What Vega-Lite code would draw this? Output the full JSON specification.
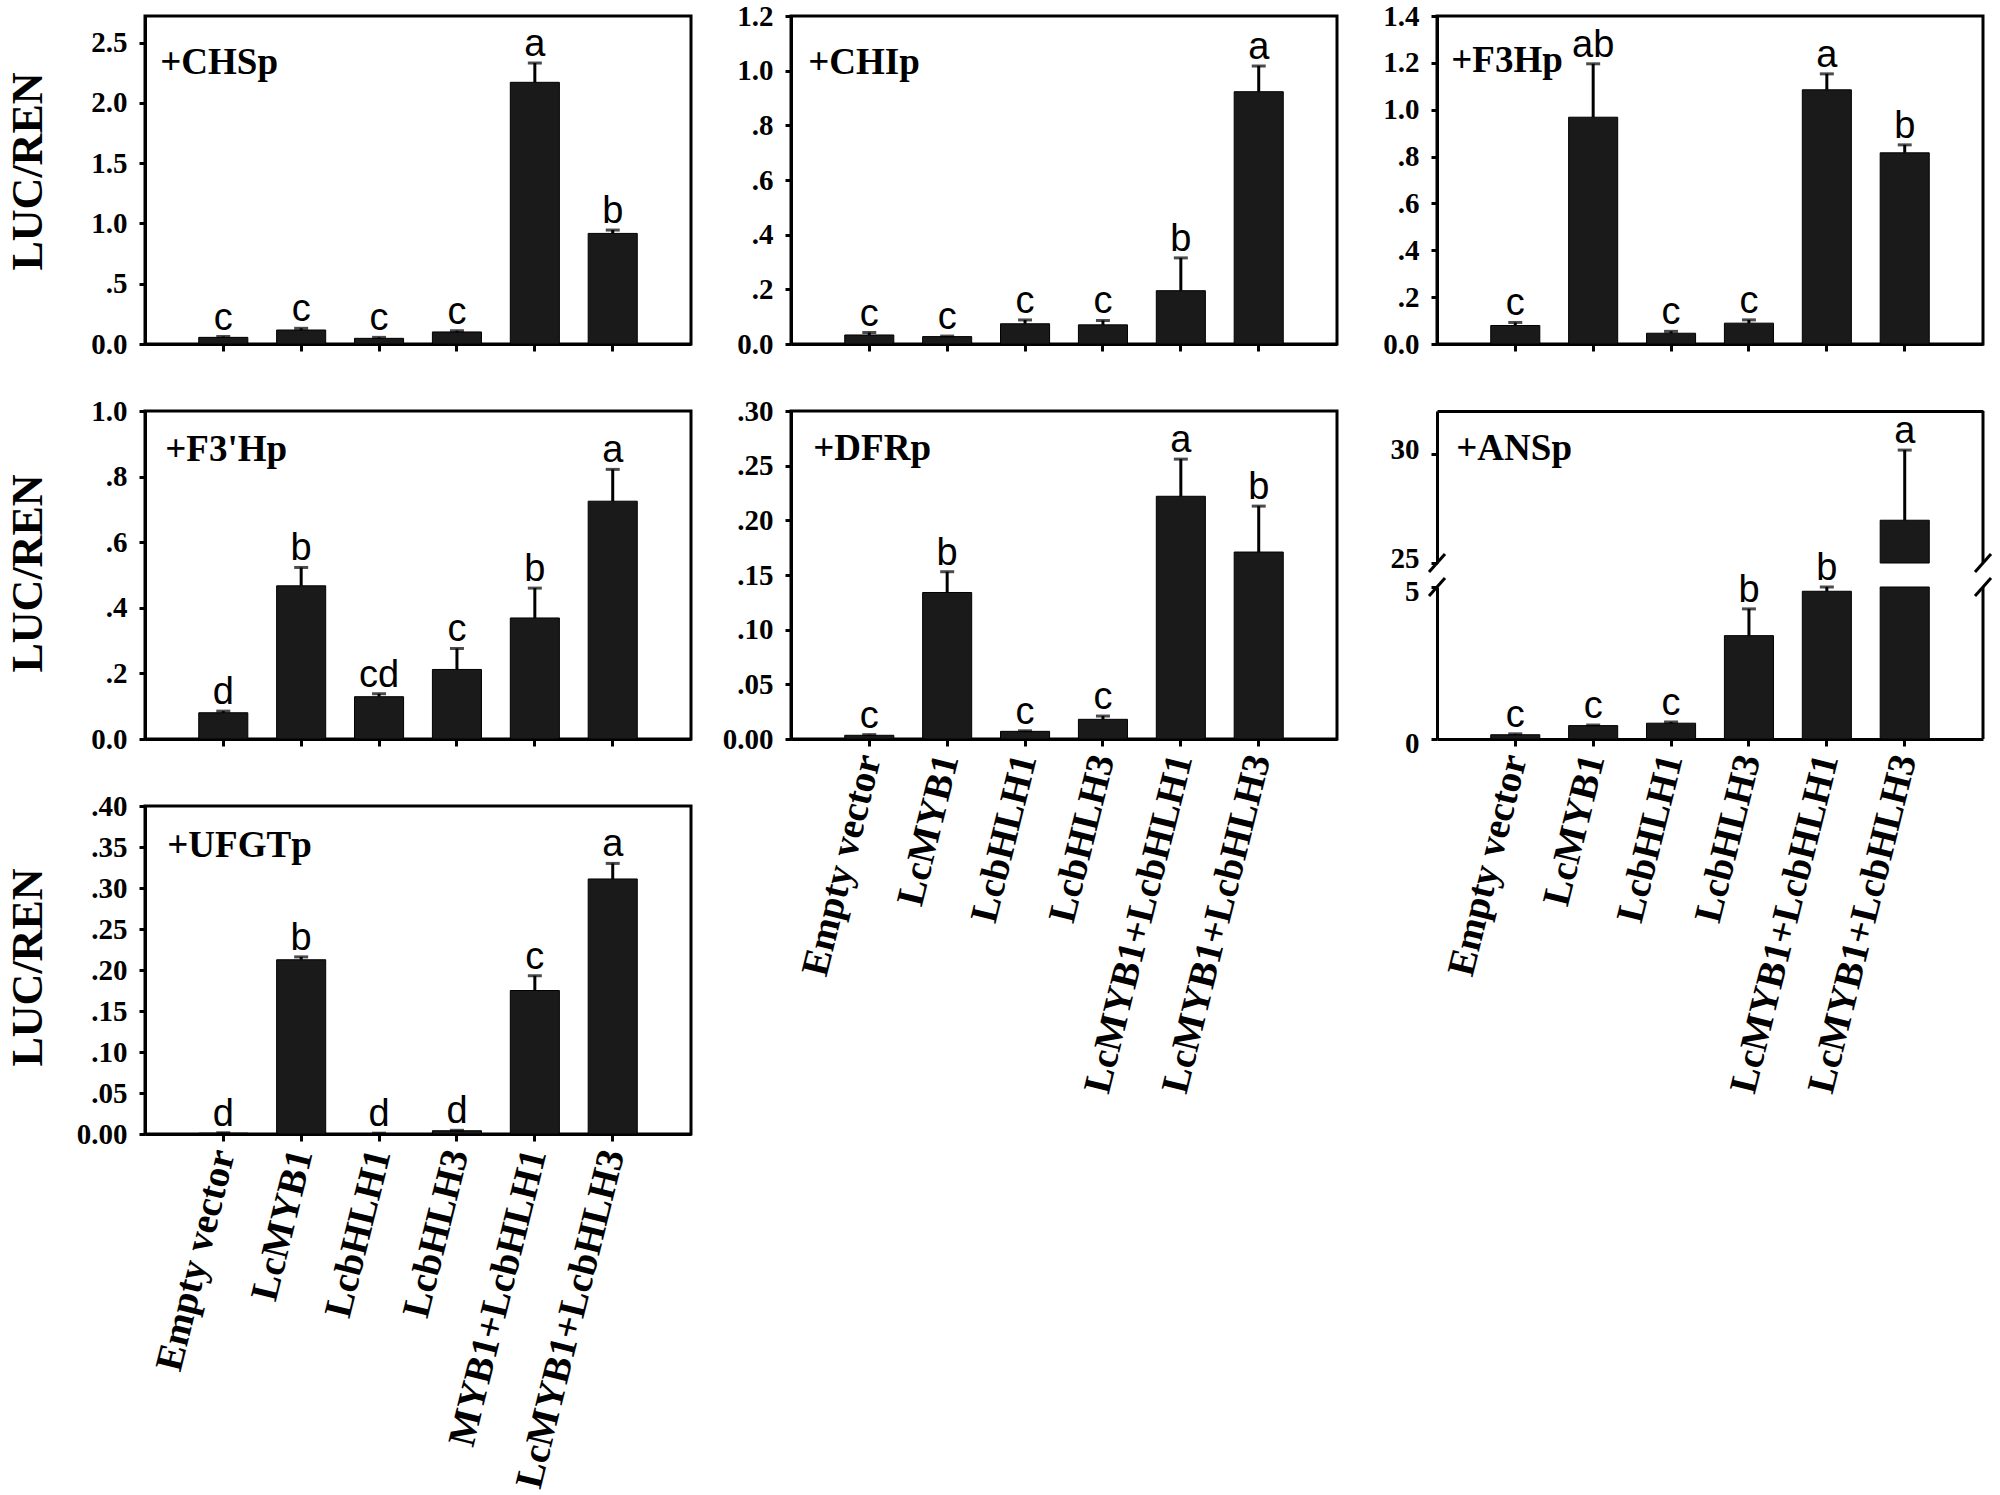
{
  "$schema": "https://vega.github.io/schema/vega-lite/v6.json",
  "background": "white",
  "padding": {"left": 4, "top": 0, "right": 5, "bottom": 2},
  "datasets": {
    "d": [
      {"p": "CHSp", "g": "Empty vector", "v": 0.055, "hi": 0.062, "l": "c"},
      {"p": "CHSp", "g": "LcMYB1", "v": 0.116, "hi": 0.13, "l": "c"},
      {"p": "CHSp", "g": "LcbHLH1", "v": 0.047, "hi": 0.055, "l": "c"},
      {"p": "CHSp", "g": "LcbHLH3", "v": 0.1, "hi": 0.11, "l": "c"},
      {"p": "CHSp", "g": "LcMYB1+LcbHLH1", "v": 2.17, "hi": 2.33, "l": "a"},
      {"p": "CHSp", "g": "LcMYB1+LcbHLH3", "v": 0.917, "hi": 0.945, "l": "b"},
      {"p": "CHIp", "g": "Empty vector", "v": 0.033, "hi": 0.042, "l": "c"},
      {"p": "CHIp", "g": "LcMYB1", "v": 0.027, "hi": 0.029, "l": "c"},
      {"p": "CHIp", "g": "LcbHLH1", "v": 0.074, "hi": 0.088, "l": "c"},
      {"p": "CHIp", "g": "LcbHLH3", "v": 0.07, "hi": 0.086, "l": "c"},
      {"p": "CHIp", "g": "LcMYB1+LcbHLH1", "v": 0.195, "hi": 0.315, "l": "b"},
      {"p": "CHIp", "g": "LcMYB1+LcbHLH3", "v": 0.923, "hi": 1.017, "l": "a"},
      {"p": "F3Hp", "g": "Empty vector", "v": 0.079, "hi": 0.092, "l": "c"},
      {"p": "F3Hp", "g": "LcMYB1", "v": 0.968, "hi": 1.196, "l": "ab"},
      {"p": "F3Hp", "g": "LcbHLH1", "v": 0.046, "hi": 0.054, "l": "c"},
      {"p": "F3Hp", "g": "LcbHLH3", "v": 0.089, "hi": 0.103, "l": "c"},
      {"p": "F3Hp", "g": "LcMYB1+LcbHLH1", "v": 1.085, "hi": 1.153, "l": "a"},
      {"p": "F3Hp", "g": "LcMYB1+LcbHLH3", "v": 0.816, "hi": 0.85, "l": "b"},
      {"p": "F3'Hp", "g": "Empty vector", "v": 0.08, "hi": 0.085, "l": "d"},
      {"p": "F3'Hp", "g": "LcMYB1", "v": 0.467, "hi": 0.523, "l": "b"},
      {"p": "F3'Hp", "g": "LcbHLH1", "v": 0.129, "hi": 0.138, "l": "cd"},
      {"p": "F3'Hp", "g": "LcbHLH3", "v": 0.212, "hi": 0.276, "l": "c"},
      {"p": "F3'Hp", "g": "LcMYB1+LcbHLH1", "v": 0.369, "hi": 0.46, "l": "b"},
      {"p": "F3'Hp", "g": "LcMYB1+LcbHLH3", "v": 0.725, "hi": 0.822, "l": "a"},
      {"p": "DFRp", "g": "Empty vector", "v": 0.0034, "hi": 0.004, "l": "c"},
      {"p": "DFRp", "g": "LcMYB1", "v": 0.134, "hi": 0.153, "l": "b"},
      {"p": "DFRp", "g": "LcbHLH1", "v": 0.007, "hi": 0.0075, "l": "c"},
      {"p": "DFRp", "g": "LcbHLH3", "v": 0.018, "hi": 0.021, "l": "c"},
      {"p": "DFRp", "g": "LcMYB1+LcbHLH1", "v": 0.222, "hi": 0.256, "l": "a"},
      {"p": "DFRp", "g": "LcMYB1+LcbHLH3", "v": 0.171, "hi": 0.213, "l": "b"},
      {"p": "ANSp", "g": "Empty vector", "v": 0.14, "hi": 0.17, "l": "c"},
      {"p": "ANSp", "g": "LcMYB1", "v": 0.44, "hi": 0.46, "l": "c"},
      {"p": "ANSp", "g": "LcbHLH1", "v": 0.52, "hi": 0.56, "l": "c"},
      {"p": "ANSp", "g": "LcbHLH3", "v": 3.4, "hi": 4.28, "l": "b"},
      {"p": "ANSp", "g": "LcMYB1+LcbHLH1", "v": 4.86, "hi": 5.0, "l": "b"},
      {"p": "ANSp", "g": "LcMYB1+LcbHLH3", "v": 26.97, "hi": 30.2, "l": "a"},
      {"p": "UFGTp", "g": "Empty vector", "v": 0.001, "hi": 0.0015, "l": "d"},
      {"p": "UFGTp", "g": "LcMYB1", "v": 0.2125, "hi": 0.216, "l": "b"},
      {"p": "UFGTp", "g": "LcbHLH1", "v": 0.0005, "hi": 0.001, "l": "d"},
      {"p": "UFGTp", "g": "LcbHLH3", "v": 0.004, "hi": 0.0045, "l": "d"},
      {"p": "UFGTp", "g": "LcMYB1+LcbHLH1", "v": 0.175, "hi": 0.193, "l": "c"},
      {"p": "UFGTp", "g": "LcMYB1+LcbHLH3", "v": 0.311, "hi": 0.33, "l": "a"}
    ]
  },
  "data": {"name": "d"},
  "columns": 3,
  "spacing": {"row": 67, "column": 100},
  "bounds": "flush",
  "concat": [
    {
      "width": 546, "height": 328,
      "transform": [{"filter": "datum.p == 'CHSp'"}],
      "encoding": {"x": {"field": "g", "type": "nominal", "sort": null, "scale": {"domain": ["Empty vector", "LcMYB1", "LcbHLH1", "LcbHLH3", "LcMYB1+LcbHLH1", "LcMYB1+LcbHLH3"], "paddingInner": 0.37, "paddingOuter": 0.69}, "axis": {"labels": false, "title": null}}},
      "layer": [
        {"mark": {"type": "bar", "fill": "#1a1a1a", "stroke": "black", "strokeWidth": 1},
         "encoding": {"y": {"field": "v", "type": "quantitative", "scale": {"domain": [0, 2.72], "nice": false}, "axis": {"values": [0, 0.5, 1, 1.5, 2, 2.5], "labelExpr": "datum.value == 0 ? '0.0' : (datum.value < 1 ? substring(format(datum.value, '.1f'), 1) : format(datum.value, '.1f'))", "title": "LUC/REN", "titleX": -95, "titleY": 155}}}},
        {"mark": {"type": "rule", "color": "black", "strokeWidth": 3}, "encoding": {"y": {"field": "v", "type": "quantitative"}, "y2": {"field": "hi"}}},
        {"mark": {"type": "tick", "color": "black", "thickness": 3, "size": 14}, "encoding": {"y": {"field": "hi", "type": "quantitative"}}},
        {"mark": {"type": "text", "baseline": "alphabetic", "dy": -7, "font": "Liberation Sans", "fontSize": 38, "color": "black"}, "encoding": {"y": {"field": "hi", "type": "quantitative"}, "text": {"field": "l"}}},
        {"data": {"values": [{"t": "+CHSp"}]}, "mark": {"type": "text", "align": "left", "baseline": "alphabetic", "dx": -63, "dy": 58, "font": "Liberation Serif", "fontWeight": "bold", "fontSize": 37, "color": "black"}, "encoding": {"x": {"datum": "Empty vector"}, "y": {"datum": 2.72}, "text": {"field": "t"}}}
      ]
    },
    {
      "width": 546, "height": 328,
      "transform": [{"filter": "datum.p == 'CHIp'"}],
      "encoding": {"x": {"field": "g", "type": "nominal", "sort": null, "scale": {"domain": ["Empty vector", "LcMYB1", "LcbHLH1", "LcbHLH3", "LcMYB1+LcbHLH1", "LcMYB1+LcbHLH3"], "paddingInner": 0.37, "paddingOuter": 0.69}, "axis": {"labels": false, "title": null}}},
      "layer": [
        {"mark": {"type": "bar", "fill": "#1a1a1a", "stroke": "black", "strokeWidth": 1},
         "encoding": {"y": {"field": "v", "type": "quantitative", "scale": {"domain": [0, 1.2], "nice": false}, "axis": {"values": [0, 0.2, 0.4, 0.6, 0.8, 1, 1.2], "labelExpr": "datum.value == 0 ? '0.0' : (datum.value < 1 ? substring(format(datum.value, '.1f'), 1) : format(datum.value, '.1f'))", "title": null}}}},
        {"mark": {"type": "rule", "color": "black", "strokeWidth": 3}, "encoding": {"y": {"field": "v", "type": "quantitative"}, "y2": {"field": "hi"}}},
        {"mark": {"type": "tick", "color": "black", "thickness": 3, "size": 14}, "encoding": {"y": {"field": "hi", "type": "quantitative"}}},
        {"mark": {"type": "text", "baseline": "alphabetic", "dy": -7, "font": "Liberation Sans", "fontSize": 38, "color": "black"}, "encoding": {"y": {"field": "hi", "type": "quantitative"}, "text": {"field": "l"}}},
        {"data": {"values": [{"t": "+CHIp"}]}, "mark": {"type": "text", "align": "left", "baseline": "alphabetic", "dx": -61, "dy": 58, "font": "Liberation Serif", "fontWeight": "bold", "fontSize": 37, "color": "black"}, "encoding": {"x": {"datum": "Empty vector"}, "y": {"datum": 1.2}, "text": {"field": "t"}}}
      ]
    },
    {
      "width": 546, "height": 328,
      "transform": [{"filter": "datum.p == 'F3Hp'"}],
      "encoding": {"x": {"field": "g", "type": "nominal", "sort": null, "scale": {"domain": ["Empty vector", "LcMYB1", "LcbHLH1", "LcbHLH3", "LcMYB1+LcbHLH1", "LcMYB1+LcbHLH3"], "paddingInner": 0.37, "paddingOuter": 0.69}, "axis": {"labels": false, "title": null}}},
      "layer": [
        {"mark": {"type": "bar", "fill": "#1a1a1a", "stroke": "black", "strokeWidth": 1},
         "encoding": {"y": {"field": "v", "type": "quantitative", "scale": {"domain": [0, 1.4], "nice": false}, "axis": {"values": [0, 0.2, 0.4, 0.6, 0.8, 1, 1.2, 1.4], "labelExpr": "datum.value == 0 ? '0.0' : (datum.value < 1 ? substring(format(datum.value, '.1f'), 1) : format(datum.value, '.1f'))", "title": null}}}},
        {"mark": {"type": "rule", "color": "black", "strokeWidth": 3}, "encoding": {"y": {"field": "v", "type": "quantitative"}, "y2": {"field": "hi"}}},
        {"mark": {"type": "tick", "color": "black", "thickness": 3, "size": 14}, "encoding": {"y": {"field": "hi", "type": "quantitative"}}},
        {"mark": {"type": "text", "baseline": "alphabetic", "dy": -7, "font": "Liberation Sans", "fontSize": 38, "color": "black"}, "encoding": {"y": {"field": "hi", "type": "quantitative"}, "text": {"field": "l"}}},
        {"data": {"values": [{"t": "+F3Hp"}]}, "mark": {"type": "text", "align": "left", "baseline": "alphabetic", "dx": -64, "dy": 56, "font": "Liberation Serif", "fontWeight": "bold", "fontSize": 37, "color": "black"}, "encoding": {"x": {"datum": "Empty vector"}, "y": {"datum": 1.4}, "text": {"field": "t"}}}
      ]
    },
    {
      "width": 546, "height": 328,
      "transform": [{"filter": "datum.p == \"F3'Hp\""}],
      "encoding": {"x": {"field": "g", "type": "nominal", "sort": null, "scale": {"domain": ["Empty vector", "LcMYB1", "LcbHLH1", "LcbHLH3", "LcMYB1+LcbHLH1", "LcMYB1+LcbHLH3"], "paddingInner": 0.37, "paddingOuter": 0.69}, "axis": {"labels": false, "title": null}}},
      "layer": [
        {"mark": {"type": "bar", "fill": "#1a1a1a", "stroke": "black", "strokeWidth": 1},
         "encoding": {"y": {"field": "v", "type": "quantitative", "scale": {"domain": [0, 1.0], "nice": false}, "axis": {"values": [0, 0.2, 0.4, 0.6, 0.8, 1], "labelExpr": "datum.value == 0 ? '0.0' : (datum.value < 1 ? substring(format(datum.value, '.1f'), 1) : format(datum.value, '.1f'))", "title": "LUC/REN", "titleX": -95, "titleY": 162}}}},
        {"mark": {"type": "rule", "color": "black", "strokeWidth": 3}, "encoding": {"y": {"field": "v", "type": "quantitative"}, "y2": {"field": "hi"}}},
        {"mark": {"type": "tick", "color": "black", "thickness": 3, "size": 14}, "encoding": {"y": {"field": "hi", "type": "quantitative"}}},
        {"mark": {"type": "text", "baseline": "alphabetic", "dy": -7, "font": "Liberation Sans", "fontSize": 38, "color": "black"}, "encoding": {"y": {"field": "hi", "type": "quantitative"}, "text": {"field": "l"}}},
        {"data": {"values": [{"t": "+F3'Hp"}]}, "mark": {"type": "text", "align": "left", "baseline": "alphabetic", "dx": -58, "dy": 50, "font": "Liberation Serif", "fontWeight": "bold", "fontSize": 37, "color": "black"}, "encoding": {"x": {"datum": "Empty vector"}, "y": {"datum": 1.0}, "text": {"field": "t"}}}
      ]
    },
    {
      "width": 546, "height": 328,
      "transform": [{"filter": "datum.p == 'DFRp'"}],
      "encoding": {"x": {"field": "g", "type": "nominal", "sort": null, "scale": {"domain": ["Empty vector", "LcMYB1", "LcbHLH1", "LcbHLH3", "LcMYB1+LcbHLH1", "LcMYB1+LcbHLH3"], "paddingInner": 0.37, "paddingOuter": 0.69}, "axis": {"title": null, "labelAngle": -76, "labelAlign": "right", "labelBaseline": "middle", "labelFontSize": 39, "labelPadding": 9, "labelLimit": 600, "labelOverlap": false}}},
      "layer": [
        {"mark": {"type": "bar", "fill": "#1a1a1a", "stroke": "black", "strokeWidth": 1},
         "encoding": {"y": {"field": "v", "type": "quantitative", "scale": {"domain": [0, 0.3], "nice": false}, "axis": {"values": [0, 0.05, 0.1, 0.15, 0.2, 0.25, 0.3], "labelExpr": "datum.value == 0 ? '0.00' : substring(format(datum.value, '.2f'), 1)", "title": null}}}},
        {"mark": {"type": "rule", "color": "black", "strokeWidth": 3}, "encoding": {"y": {"field": "v", "type": "quantitative"}, "y2": {"field": "hi"}}},
        {"mark": {"type": "tick", "color": "black", "thickness": 3, "size": 14}, "encoding": {"y": {"field": "hi", "type": "quantitative"}}},
        {"mark": {"type": "text", "baseline": "alphabetic", "dy": -7, "font": "Liberation Sans", "fontSize": 38, "color": "black"}, "encoding": {"y": {"field": "hi", "type": "quantitative"}, "text": {"field": "l"}}},
        {"data": {"values": [{"t": "+DFRp"}]}, "mark": {"type": "text", "align": "left", "baseline": "alphabetic", "dx": -56, "dy": 49, "font": "Liberation Serif", "fontWeight": "bold", "fontSize": 37, "color": "black"}, "encoding": {"x": {"datum": "Empty vector"}, "y": {"datum": 0.3}, "text": {"field": "t"}}}
      ]
    },
    {
      "vconcat": [
        {
          "width": 546, "height": 152,
          "view": {"stroke": null},
          "layer": [
            {
              "transform": [{"filter": "datum.p == 'ANSp' && datum.v > 25"}],
              "encoding": {"x": {"field": "g", "type": "nominal", "sort": null, "scale": {"domain": ["Empty vector", "LcMYB1", "LcbHLH1", "LcbHLH3", "LcMYB1+LcbHLH1", "LcMYB1+LcbHLH3"], "paddingInner": 0.37, "paddingOuter": 0.69}, "axis": {"orient": "top", "labels": false, "ticks": false, "title": null}}},
              "layer": [
                {"mark": {"type": "bar", "fill": "#1a1a1a", "stroke": "black", "strokeWidth": 1},
                 "encoding": {"y": {"field": "v", "type": "quantitative", "scale": {"domain": [25, 32], "nice": false, "zero": false}, "axis": {"values": [25, 30], "format": "d", "title": null, "labelOffset": -5}}, "y2": {"datum": 25}}},
                {"mark": {"type": "rule", "color": "black", "strokeWidth": 3}, "encoding": {"y": {"field": "v", "type": "quantitative"}, "y2": {"field": "hi"}}},
                {"mark": {"type": "tick", "color": "black", "thickness": 3, "size": 14}, "encoding": {"y": {"field": "hi", "type": "quantitative"}}},
                {"mark": {"type": "text", "baseline": "alphabetic", "dy": -7, "font": "Liberation Sans", "fontSize": 38, "color": "black"}, "encoding": {"y": {"field": "hi", "type": "quantitative"}, "text": {"field": "l"}}},
                {"data": {"values": [{"t": "+ANSp"}]}, "mark": {"type": "text", "align": "left", "baseline": "alphabetic", "dx": -59, "dy": 49, "font": "Liberation Serif", "fontWeight": "bold", "fontSize": 37, "color": "black"}, "encoding": {"x": {"datum": "Empty vector"}, "y": {"datum": 32}, "text": {"field": "t"}}}
              ]
            },
            {"data": {"values": [{"e": 1}]}, "mark": {"type": "rule", "color": "black", "strokeWidth": 3},
             "encoding": {"x": {"field": "e", "type": "quantitative", "scale": {"domain": [0, 1]}, "axis": null}, "y": {"datum": 25}, "y2": {"datum": 32}}},
            {"data": {"values": [{"e": 0}, {"e": 1}]}, "mark": {"type": "rule", "color": "black", "strokeWidth": 3, "xOffset": -8, "x2Offset": 8, "yOffset": 9, "y2Offset": -9},
             "encoding": {"x": {"field": "e", "type": "quantitative", "scale": {"domain": [0, 1]}, "axis": null}, "x2": {"field": "e"}, "y": {"datum": 25}, "y2": {"datum": 25}}}
          ],
          "resolve": {"scale": {"x": "independent"}}
        },
        {
          "width": 546, "height": 152,
          "view": {"stroke": null},
          "layer": [
            {
              "transform": [{"filter": "datum.p == 'ANSp'"}],
              "encoding": {"x": {"field": "g", "type": "nominal", "sort": null, "scale": {"domain": ["Empty vector", "LcMYB1", "LcbHLH1", "LcbHLH3", "LcMYB1+LcbHLH1", "LcMYB1+LcbHLH3"], "paddingInner": 0.37, "paddingOuter": 0.69}, "axis": {"title": null, "labelAngle": -76, "labelAlign": "right", "labelBaseline": "middle", "labelFontSize": 39, "labelPadding": 9, "labelLimit": 600, "labelOverlap": false}}},
              "layer": [
                {"mark": {"type": "bar", "fill": "#1a1a1a", "stroke": "black", "strokeWidth": 1},
                 "encoding": {"y": {"field": "v", "type": "quantitative", "scale": {"domain": [0, 5], "nice": false, "clamp": true}, "axis": {"values": [0, 5], "format": "d", "title": null, "labelOffset": 4}}}},
                {"transform": [{"filter": "datum.v < 25"}], "mark": {"type": "rule", "color": "black", "strokeWidth": 3}, "encoding": {"y": {"field": "v", "type": "quantitative"}, "y2": {"field": "hi"}}},
                {"transform": [{"filter": "datum.v < 25"}], "mark": {"type": "tick", "color": "black", "thickness": 3, "size": 14}, "encoding": {"y": {"field": "hi", "type": "quantitative"}}},
                {"transform": [{"filter": "datum.v < 25"}], "mark": {"type": "text", "baseline": "alphabetic", "dy": -7, "font": "Liberation Sans", "fontSize": 38, "color": "black"}, "encoding": {"y": {"field": "hi", "type": "quantitative"}, "text": {"field": "l"}}}
              ]
            },
            {"data": {"values": [{"e": 1}]}, "mark": {"type": "rule", "color": "black", "strokeWidth": 3},
             "encoding": {"x": {"field": "e", "type": "quantitative", "scale": {"domain": [0, 1]}, "axis": null}, "y": {"datum": 0}, "y2": {"datum": 5}}},
            {"data": {"values": [{"e": 0}, {"e": 1}]}, "mark": {"type": "rule", "color": "black", "strokeWidth": 3, "xOffset": -8, "x2Offset": 8, "yOffset": 9, "y2Offset": -9},
             "encoding": {"x": {"field": "e", "type": "quantitative", "scale": {"domain": [0, 1]}, "axis": null}, "x2": {"field": "e"}, "y": {"datum": 5}, "y2": {"datum": 5}}}
          ],
          "resolve": {"scale": {"x": "independent"}}
        }
      ],
      "spacing": 24,
      "bounds": "flush"
    },
    {
      "width": 546, "height": 328,
      "transform": [{"filter": "datum.p == 'UFGTp'"}],
      "encoding": {"x": {"field": "g", "type": "nominal", "sort": null, "scale": {"domain": ["Empty vector", "LcMYB1", "LcbHLH1", "LcbHLH3", "LcMYB1+LcbHLH1", "LcMYB1+LcbHLH3"], "paddingInner": 0.37, "paddingOuter": 0.69}, "axis": {"title": null, "labelAngle": -76, "labelAlign": "right", "labelBaseline": "middle", "labelFontSize": 39, "labelPadding": 9, "labelLimit": 600, "labelOverlap": false, "labelExpr": "datum.label == 'LcMYB1+LcbHLH1' ? 'MYB1+LcbHLH1' : datum.label"}}},
      "layer": [
        {"mark": {"type": "bar", "fill": "#1a1a1a", "stroke": "black", "strokeWidth": 1},
         "encoding": {"y": {"field": "v", "type": "quantitative", "scale": {"domain": [0, 0.4], "nice": false}, "axis": {"values": [0, 0.05, 0.1, 0.15, 0.2, 0.25, 0.3, 0.35, 0.4], "labelExpr": "datum.value == 0 ? '0.00' : substring(format(datum.value, '.2f'), 1)", "title": "LUC/REN", "titleX": -95, "titleY": 161}}}},
        {"mark": {"type": "rule", "color": "black", "strokeWidth": 3}, "encoding": {"y": {"field": "v", "type": "quantitative"}, "y2": {"field": "hi"}}},
        {"mark": {"type": "tick", "color": "black", "thickness": 3, "size": 14}, "encoding": {"y": {"field": "hi", "type": "quantitative"}}},
        {"mark": {"type": "text", "baseline": "alphabetic", "dy": -7, "font": "Liberation Sans", "fontSize": 38, "color": "black"}, "encoding": {"y": {"field": "hi", "type": "quantitative"}, "text": {"field": "l"}}},
        {"data": {"values": [{"t": "+UFGTp"}]}, "mark": {"type": "text", "align": "left", "baseline": "alphabetic", "dx": -56, "dy": 51, "font": "Liberation Serif", "fontWeight": "bold", "fontSize": 37, "color": "black"}, "encoding": {"x": {"datum": "Empty vector"}, "y": {"datum": 0.4}, "text": {"field": "t"}}}
      ]
    }
  ],
  "config": {
    "view": {"stroke": "black", "strokeWidth": 3},
    "axis": {"domainColor": "black", "domainWidth": 3, "tickColor": "black", "tickWidth": 3, "grid": false, "labelFont": "Liberation Serif", "labelFontWeight": "bold", "labelFontSize": 29, "labelColor": "black", "titleFont": "Liberation Serif", "titleFontWeight": "bold", "titleFontSize": 44, "titleColor": "black"},
    "axisY": {"tickSize": 6, "labelPadding": 12},
    "axisX": {"tickSize": 7}
  }
}
